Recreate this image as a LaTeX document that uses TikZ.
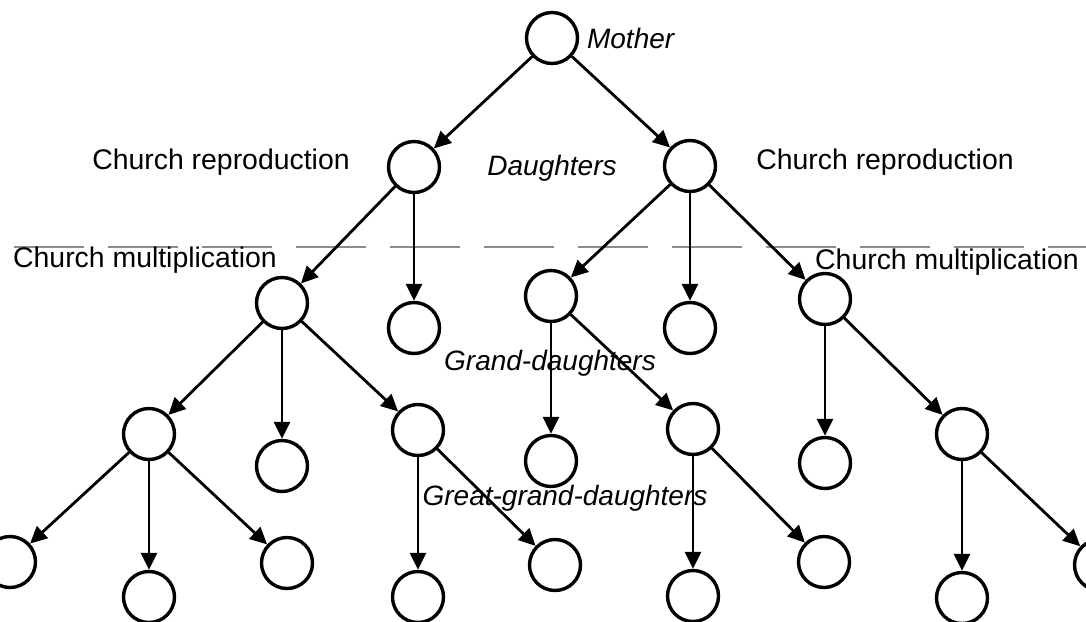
\documentclass[tikz,border=0pt]{standalone}
\usepackage{fontspec}
\setmainfont{Liberation Sans}
\usetikzlibrary{arrows.meta}

\begin{document}
\begin{tikzpicture}[
    x=0.5pt, y=-0.5pt,
    church/.style={circle, draw, line width=1.7pt, minimum size=25.5pt, inner sep=0pt},
    arrow/.style={-{Triangle[length=8.5pt,width=8pt]}, line width=1.4pt},
    divider/.style={black!45, line width=1.1pt, dash pattern=on 35pt off 12pt},
    church text/.style={font=\fontsize{14.2}{16}\selectfont},
    generation text/.style={font=\itshape\fontsize{14}{16}\selectfont}
    ]

    \useasboundingbox (0,0) rectangle (1086,621);
    \clip (0,0) rectangle (1086,621);

    % divider between reproduction and multiplication
    \draw[divider] (14,247) -- (1086,247);

    % mother and daughters
    \node[church] (M)  at (552,38)  {};
    \node[church] (D1) at (414,167) {};
    \node[church] (D2) at (690,166) {};
    % grand-daughters
    \node[church] (G1) at (282,303) {};
    \node[church] (G2) at (414,328) {};
    \node[church] (G3) at (551,296) {};
    \node[church] (G4) at (690,328) {};
    \node[church] (G5) at (825,299) {};
    % great-grand-daughters
    \node[church] (H1) at (149,434) {};
    \node[church] (H2) at (282,466) {};
    \node[church] (H3) at (418,430) {};
    \node[church] (H4) at (551,461) {};
    \node[church] (H5) at (693,429) {};
    \node[church] (H6) at (825,463) {};
    \node[church] (H7) at (962,434) {};
    % next generation
    \node[church] (K1) at (10,562)   {};
    \node[church] (K2) at (149,597)  {};
    \node[church] (K3) at (287,563)  {};
    \node[church] (K4) at (418,597)  {};
    \node[church] (K5) at (555,565)  {};
    \node[church] (K6) at (693,596)  {};
    \node[church] (K7) at (824,562)  {};
    \node[church] (K8) at (962,598)  {};
    \node[church] (K9) at (1100,565) {};

    % arrows
    \draw[arrow] (M) -- (D1);
    \draw[arrow] (M) -- (D2);
    \draw[arrow] (D1) -- (G1);
    \draw[arrow] (D1) -- (G2);
    \draw[arrow] (D2) -- (G3);
    \draw[arrow] (D2) -- (G4);
    \draw[arrow] (D2) -- (G5);
    \draw[arrow] (G1) -- (H1);
    \draw[arrow] (G1) -- (H2);
    \draw[arrow] (G1) -- (H3);
    \draw[arrow] (G3) -- (H4);
    \draw[arrow] (G3) -- (H5);
    \draw[arrow] (G5) -- (H6);
    \draw[arrow] (G5) -- (H7);
    \draw[arrow] (H1) -- (K1);
    \draw[arrow] (H1) -- (K2);
    \draw[arrow] (H1) -- (K3);
    \draw[arrow] (H3) -- (K4);
    \draw[arrow] (H3) -- (K5);
    \draw[arrow] (H5) -- (K6);
    \draw[arrow] (H5) -- (K7);
    \draw[arrow] (H7) -- (K8);
    \draw[arrow] (H7) -- (K9);

    % labels
    \node[generation text, anchor=west] (mother) at (580,38) {Mother};
    \node[generation text] (daughters) at (552,168) {Daughters};
    \node[generation text] (grand) at (550,363) {Grand-daughters};
    \node[generation text] (great) at (565,498) {Great-grand-daughters};
    \node[church text] (reprodL) at (221,162) {Church reproduction};
    \node[church text] (reprodR) at (885,162) {Church reproduction};
    \node[church text] (multL) at (145,260) {Church multiplication};
    \node[church text] (multR) at (947,262) {Church multiplication};
\end{tikzpicture}
\end{document}
